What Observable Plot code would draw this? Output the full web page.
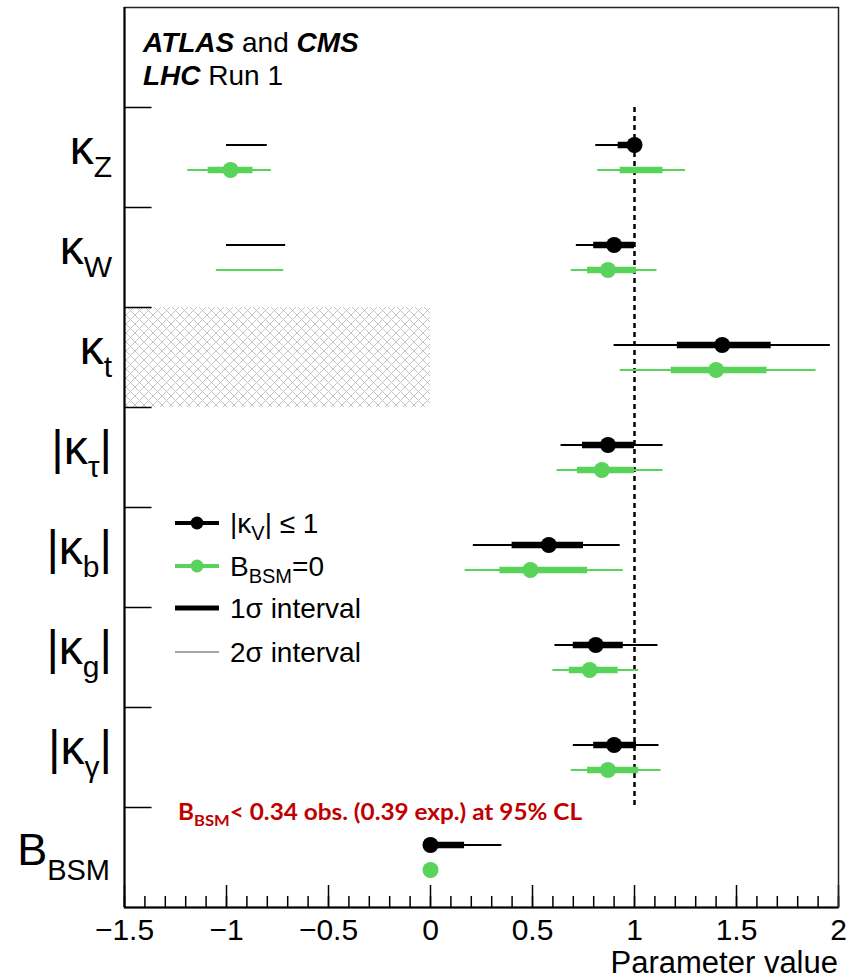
<!DOCTYPE html>
<html><head><meta charset="utf-8">
<script src="https://cdn.jsdelivr.net/npm/d3@7"></script>
<script src="https://cdn.jsdelivr.net/npm/@observablehq/plot@0.6"></script>
<style>body{margin:0;background:#fff}#chart svg{display:block}</style>
</head><body><div id="chart"></div>
<script>
// ---- data ----
const paramMain = ["κ","κ","κ","κ","κ","κ","κ","B"];
const paramSub  = ["Z","W","t","τ","b","g","γ","BSM"];
const paramAbs  = [false,false,false,true,true,true,true,false];

// |κV| <= 1 (black)
const kvBest = [1.00, 0.90, 1.43, 0.87, 0.58, 0.81, 0.90, 0.00];
const kvLo1  = [0.92, 0.80, 1.21, 0.745, 0.40, 0.70, 0.80, 0.00];
const kvHi1  = [1.00, 1.00, 1.67, 1.00, 0.75, 0.945, 1.01, 0.167];
const kvLo2  = [0.81, 0.715, 0.90, 0.64, 0.21, 0.61, 0.70, 0.00];
const kvHi2  = [1.00, 1.00, 1.96, 1.14, 0.93, 1.115, 1.12, 0.35];
// B_BSM = 0 (green)
const bsmBest = [-0.98, 0.87, 1.40, 0.84, 0.49, 0.78, 0.87, 0.00];
const bsmLo1  = [0.93, 0.77, 1.18, 0.72, 0.34, 0.68, 0.77, null];
const bsmHi1  = [1.14, 1.01, 1.65, 1.00, 0.77, 0.92, 1.02, null];
const bsmLo2  = [0.82, 0.69, 0.93, 0.62, 0.17, 0.60, 0.69, null];
const bsmHi2  = [1.25, 1.11, 1.89, 1.14, 0.945, 1.02, 1.13, null];
// extra intervals in the negative region
const negParam  = [0, 0, 0, 1, 1];
const negSeries = ["kv", "bsm", "bsm", "kv", "bsm"];
const negSigma  = [2, 1, 2, 2, 2];
const negLo     = [-1.00, -1.09, -1.19, -1.00, -1.05];
const negHi     = [-0.80, -0.87, -0.78, -0.71, -0.72];

const xDomain = [-1.5, 2];
const xMajor = [-1.5, -1, -0.5, 0, 0.5, 1, 1.5, 2];
const xMinor = d3.range(-15, 21).map(i => i / 10);
const rowBorders = [1, 2, 3, 4, 5, 6, 7, 8];
const excluded = [{x1: -1.5, x2: 0, row: 2}];

// ---- build tables ----
const off = {kv: -0.125, bsm: 0.125};
const rowY = (i, s) => i + 1.5 + off[s];
const intervals = [];
const points = [];
const series = [
  ["kv", kvBest, kvLo1, kvHi1, kvLo2, kvHi2],
  ["bsm", bsmBest, bsmLo1, bsmHi1, bsmLo2, bsmHi2]
];
for (const [s, best, lo1, hi1, lo2, hi2] of series) {
  best.forEach((b, i) => {
    points.push({series: s, x: b, y: rowY(i, s)});
    if (lo2[i] != null) intervals.push({series: s, sigma: 2, x1: lo2[i], x2: hi2[i], y: rowY(i, s)});
    if (lo1[i] != null) intervals.push({series: s, sigma: 1, x1: lo1[i], x2: hi1[i], y: rowY(i, s)});
  });
}
negParam.forEach((p, k) => intervals.push({series: negSeries[k], sigma: negSigma[k], x1: negLo[k], x2: negHi[k], y: rowY(p, negSeries[k])}));

const GREEN = "#5ad35a";
const FONT = "'Liberation Sans', Arial, Helvetica, sans-serif";
const fmt = v => (v < 0 ? "\u2212" : "") + Math.abs(v);

const plot = Plot.plot({
  width: 852, height: 979,
  marginTop: 7, marginBottom: 72, marginLeft: 124, marginRight: 14,
  style: {fontFamily: FONT, background: "#fff", color: "#000"},
  x: {domain: xDomain, axis: null},
  y: {domain: [0, 9], reverse: true, axis: null},
  color: {domain: ["kv", "bsm"], range: ["#000", GREEN]},
  marks: [
    Plot.rect(excluded, {x1: "x1", x2: "x2", y1: d => d.row + 1, y2: d => d.row + 2, fill: "url(#xhatch)"}),
    Plot.ruleX([1], {y1: rowBorders[0], y2: rowBorders[rowBorders.length - 1], stroke: "#000", strokeWidth: 2.5, strokeDasharray: "5,4"}),
    Plot.ruleY(rowBorders, {x1: xDomain[0], x2: xDomain[0] + 0.135, stroke: "#000", strokeWidth: 1.5}),
    Plot.ruleX(xMinor, {y1: 9, y2: 8.89, stroke: "#000", strokeWidth: 1.5}),
    Plot.ruleX(xMajor, {y1: 9, y2: 8.78, stroke: "#000", strokeWidth: 1.5}),
    Plot.ruleY(intervals.filter(d => d.sigma === 2), {y: "y", x1: "x1", x2: "x2", stroke: "series", strokeWidth: 2.2}),
    Plot.ruleY(intervals.filter(d => d.sigma === 1), {y: "y", x1: "x1", x2: "x2", stroke: "series", strokeWidth: 6.5}),
    Plot.dot(points, {x: "x", y: "y", r: 8, fill: "series", stroke: null}),
    Plot.frame({stroke: "#222", strokeWidth: 1.5}),
    Plot.ruleX([xDomain[0]], {stroke: "#000", strokeWidth: 2}),
    Plot.ruleY([9], {stroke: "#000", strokeWidth: 2}),
    Plot.text(xMajor, {x: d => d, y: 9, text: fmt, dy: 23, fontSize: 30})
  ]
});
document.getElementById("chart").appendChild(plot);

// ---- rich text (subscripts) positioned with the plot's scales ----
const X = v => plot.scale("x").apply(v);
const Y = v => plot.scale("y").apply(v);
const svg = d3.select(plot);
const defs = svg.insert("defs", ":first-child");
const pat = defs.append("pattern").attr("id", "xhatch").attr("patternUnits", "userSpaceOnUse")
  .attr("width", 9).attr("height", 9);
pat.append("path").attr("d", "M0,0L9,9M9,0L0,9M-1,8L1,10M8,-1L10,1").attr("stroke", "#c4c4c4").attr("stroke-width", 1).attr("fill", "none");

const g = svg.append("g").attr("font-family", FONT);
function rich(x, y, parts, o = {}) {
  const t = g.append("text").attr("x", x).attr("y", y).attr("text-anchor", o.anchor || "start")
    .attr("font-size", o.size).attr("fill", o.fill || "#000");
  if (o.family) t.attr("font-family", o.family);
  if (o.weight) t.attr("font-weight", o.weight);
  if (o.length) t.attr("textLength", o.length).attr("lengthAdjust", "spacingAndGlyphs");
  let cur = 0;
  for (const p of parts) {
    const ts = t.append("tspan").text(p.t);
    if (p.size) ts.attr("font-size", p.size);
    const d = (p.dy || 0) - cur;
    if (d) ts.attr("dy", d);
    cur = p.dy || 0;
    if (p.w) ts.attr("font-weight", p.w);
    if (p.i) ts.attr("font-style", "italic");
  }
  return t;
}

// x-axis title
rich(X(xDomain[1]), Y(9) + 66, [{t: "Parameter value"}], {anchor: "end", size: 31});

// y labels
const L = X(xDomain[0]);
paramMain.forEach((m, i) => {
  const cy = Y(i + 1.5);
  let parts;
  if (m === "B") {
    parts = [{t: "B"}, {t: paramSub[i], size: 29, dy: 15}];
    rich(L - 14, cy + 8, parts, {anchor: "end", size: 45});
  } else {
    parts = [];
    if (paramAbs[i]) parts.push({t: "|"});
    parts.push({t: "κ"});
    parts.push({t: paramSub[i], size: 30, dy: 13});
    if (paramAbs[i]) parts.push({t: "|", dy: 0});
    rich(L - 12, cy + 7, parts, {anchor: "end", size: 48});
  }
});

// experiment label
rich(L + 19, Y(0) + 45, [{t: "ATLAS", w: "bold", i: true}, {t: " and "}, {t: "CMS", w: "bold", i: true}], {size: 28});
rich(L + 19, Y(0) + 78, [{t: "LHC", w: "bold", i: true}, {t: " Run 1"}], {size: 28});

// legend
const lx0 = L + 51, lx1 = L + 95, tx = L + 106;
const legY = [5.16, 5.59, 6.01, 6.45].map(Y);
const lg = svg.append("g");
lg.append("line").attr("x1", lx0).attr("x2", lx1).attr("y1", legY[0]).attr("y2", legY[0]).attr("stroke", "#000").attr("stroke-width", 4);
lg.append("circle").attr("cx", (lx0 + lx1) / 2).attr("cy", legY[0]).attr("r", 6.5).attr("fill", "#000");
lg.append("line").attr("x1", lx0).attr("x2", lx1).attr("y1", legY[1]).attr("y2", legY[1]).attr("stroke", GREEN).attr("stroke-width", 4);
lg.append("circle").attr("cx", (lx0 + lx1) / 2).attr("cy", legY[1]).attr("r", 6.5).attr("fill", GREEN);
lg.append("line").attr("x1", lx0).attr("x2", lx1).attr("y1", legY[2]).attr("y2", legY[2]).attr("stroke", "#000").attr("stroke-width", 5);
lg.append("line").attr("x1", lx0).attr("x2", lx1).attr("y1", legY[3]).attr("y2", legY[3]).attr("stroke", "#888").attr("stroke-width", 1.5);
rich(tx, legY[0] + 10, [{t: "|κ"}, {t: "V", size: 20, dy: 7}, {t: "| ≤ 1", dy: 0}], {size: 28});
rich(tx, legY[1] + 10, [{t: "B"}, {t: "BSM", size: 20, dy: 7}, {t: "=0", dy: 0}], {size: 28});
rich(tx, legY[2] + 10, [{t: "1σ interval"}], {size: 28});
rich(tx, legY[3] + 10, [{t: "2σ interval"}], {size: 28});

// red annotation
rich(X(-1.235), Y(8) + 13, [{t: "B"}, {t: "BSM", size: 15, dy: 6}, {t: "< 0.34 obs. (0.39 exp.) at 95% CL", dy: 0}],
  {size: 22, fill: "#c00000", family: "Lato, 'Open Sans', sans-serif", weight: "bold", length: 404});
</script>
</body></html>
